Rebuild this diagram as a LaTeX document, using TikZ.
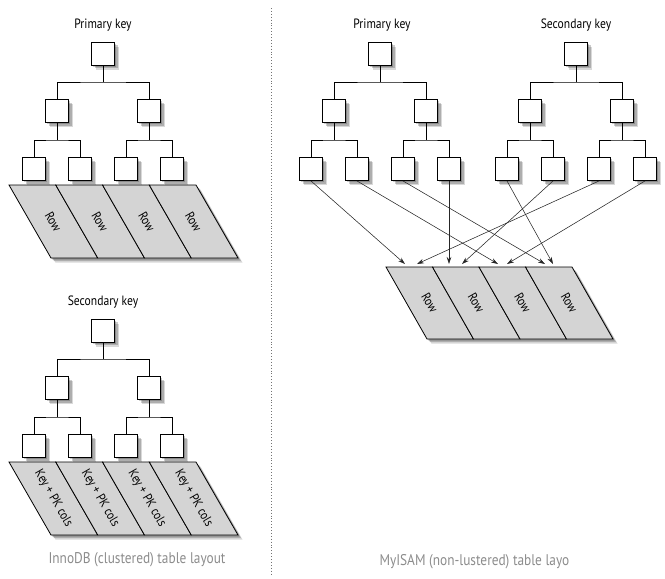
\documentclass[tikz,border=0pt]{standalone}
\usepackage{fontspec}
\setmainfont{PT Sans}[FakeStretch=0.86]
\usetikzlibrary{shadows,arrows.meta,calc}
\tikzset{
  shad/.style={drop shadow={shadow xshift=4.5pt, shadow yshift=-4.5pt, opacity=0.15, fill=black},
               drop shadow={shadow xshift=3pt, shadow yshift=-3pt, opacity=0.2, fill=black},
               drop shadow={shadow xshift=1.5pt, shadow yshift=-1.5pt, opacity=0.2, fill=black}},
  key/.style={draw, line width=0.9pt, fill=white, minimum width=23pt, minimum height=23pt, inner sep=0pt, shad},
  link/.style={line width=0.9pt},
  ptr/.style={line width=0.55pt, draw=black!85, -{Stealth[length=7pt,width=4.5pt]}},
  rowcell/.style={draw, line width=0.8pt, fill=black!17},
  rowtext/.style={rotate=-60, inner sep=0pt, font=\fontsize{13}{14}\selectfont},
  lbl/.style={font=\fontsize{13.5}{15}\selectfont},
  captext/.style={font=\fontsize{15.5}{17}\selectfont, text=black!45},
}
\newcommand\mytree[3]{%
  \node[key] (#1r) at (#2,#3) {};
  \node[key] (#1a) at (#2-46,#3+57.5) {};
  \node[key] (#1b) at (#2+46,#3+57.5) {};
  \node[key] (#1l1) at (#2-69,#3+115.5) {};
  \node[key] (#1l2) at (#2-23,#3+115.5) {};
  \node[key] (#1l3) at (#2+23,#3+115.5) {};
  \node[key] (#1l4) at (#2+69,#3+115.5) {};
  \coordinate (#1j) at (#2,#3+28.5);
  \coordinate (#1ja) at (#2-46,#3+86.5);
  \coordinate (#1jb) at (#2+46,#3+86.5);
  \draw[link] (#1r) -- (#1j);
  \draw[link] (#1a.north) |- (#1j) -| (#1b.north);
  \draw[link] (#1a) -- (#1ja);
  \draw[link] (#1l1.north) |- (#1ja) -| (#1l2.north);
  \draw[link] (#1b) -- (#1jb);
  \draw[link] (#1l3.north) |- (#1jb) -| (#1l4.north);
}
% rows: prefix, x0, ytop, cell width, height, shift, text
\newcommand\myrows[7]{%
  \path[shad, fill=black!17] (#2,#3) -- (#2+4*#4,#3) -- (#2+4*#4+#6,#3+#5) -- (#2+#6,#3+#5) -- cycle;
  \foreach \i in {0,1,2,3}{
    \draw[rowcell] (#2+\i*#4,#3) -- (#2+\i*#4+#4,#3) -- (#2+\i*#4+#4+#6,#3+#5) -- (#2+\i*#4+#6,#3+#5) -- cycle;
    \node[rowtext] (#1\i) at (#2+\i*#4+0.5*#4+0.5*#6,#3+0.5*#5) {#7};
  }
}
\begin{document}
\begin{tikzpicture}[x=1pt,y=-1pt]
\useasboundingbox (0,0) rectangle (665,579);
% separator
\draw[dotted, black!55, line width=0.9pt] (271,8) -- (271,576);
% left top: InnoDB primary
\node[lbl] (lp) at (103,25) {Primary key};
\mytree{lp}{103}{53.5}
\myrows{lprow}{9}{185}{46.75}{73}{42}{Row}
% left bottom: InnoDB secondary
\node[lbl] (ls) at (103,302) {Secondary key};
\mytree{ls}{103}{330.5}
\myrows{lsrow}{9}{462}{46.75}{73}{42}{Key + PK cols}
\node[captext] (lcap) at (137,560) {InnoDB (clustered) table layout};
% right: MyISAM
\node[lbl] (rp) at (382,25) {Primary key};
\mytree{rp}{380}{53.5}
\node[lbl] (rs) at (576,25) {Secondary key};
\mytree{rs}{576}{53.5}
\myrows{rrow}{386}{267}{46.5}{72}{41}{Row}
\node[captext, anchor=west] (rcap) at (376,562) {MyISAM (non-lustered) table layo};
% arrow tips
\coordinate (t1) at (405,264);
\coordinate (t2) at (417,264);
\coordinate (t3) at (449,264);
\coordinate (t4) at (462,264);
\coordinate (t5) at (498,264);
\coordinate (t6) at (507,264);
\coordinate (t7) at (545,264);
\coordinate (t8) at (553,264);
\draw[ptr] (rpl1.south) -- (t1);
\draw[ptr] (rsl3.south) -- (t2);
\draw[ptr] (rpl4.south) -- (t3);
\draw[ptr] (rsl2.south) -- (t4);
\draw[ptr] (rpl2.south) -- (t5);
\draw[ptr] (rsl4.south) -- (t6);
\draw[ptr] (rpl3.south) -- (t7);
\draw[ptr] (rsl1.south) -- (t8);
\end{tikzpicture}
\end{document}
